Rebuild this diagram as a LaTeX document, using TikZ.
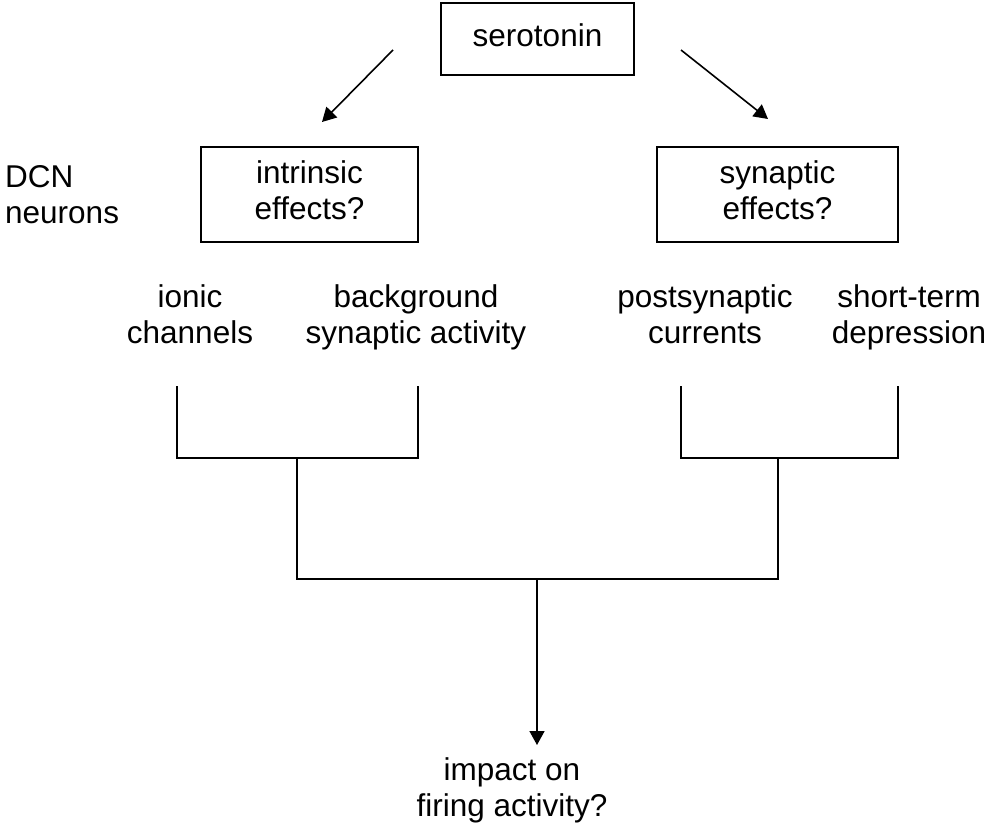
\documentclass[tikz,border=0pt]{standalone}
\usepackage{fontspec}
\setmainfont{Liberation Sans}
\usetikzlibrary{arrows.meta}
\begin{document}
\begin{tikzpicture}[x=1pt,y=-1pt,
  lbl/.style={font=\fontsize{31.5}{36}\selectfont, align=center, inner sep=0pt},
  boxnode/.style={lbl, draw, line width=1.6pt},
  conn/.style={line width=1.8pt},
  arr/.style={line width=1.6pt, -{Triangle[length=14pt,width=15pt]}}]
\useasboundingbox (0,0) rectangle (987,829);
% boxes
\node[boxnode, minimum width=193pt, minimum height=72pt] (sero) at (537.5,39) {\strut serotonin};
\node[boxnode, minimum width=217pt, minimum height=95pt] (intr) at (309.5,194.5) {\strut intrinsic\\\strut effects?};
\node[boxnode, minimum width=241pt, minimum height=95pt] (syn) at (777.5,194.5) {\strut synaptic\\\strut effects?};
% labels
\node[lbl, align=left, anchor=west] (dcn) at (5,198) {\strut DCN\\\strut neurons};
\node[lbl] (ionic) at (190,318) {\strut ionic\\\strut channels};
\node[lbl] (bg) at (416,318) {\strut background\\\strut synaptic activity};
\node[lbl] (post) at (705,318) {\strut postsynaptic\\\strut currents};
\node[lbl] (stp) at (909,318) {\strut short-term\\\strut depression};
\node[lbl] (impact) at (512,791) {\strut impact on\\\strut firing activity?};
% arrow coordinates
\coordinate (aLs) at (393,50);
\coordinate (aLe) at (322,122);
\coordinate (aRs) at (681,50);
\coordinate (aRe) at (768,119);
\draw[arr] (aLs) -- (aLe);
\draw[arr] (aRs) -- (aRe);
% bracket coordinates
\coordinate (t1) at (177,386);
\coordinate (t2) at (418,386);
\coordinate (t3) at (681,386);
\coordinate (t4) at (898,386);
\coordinate (m1) at (297,458);
\coordinate (m2) at (778,458);
\coordinate (c0) at (537,579);
\coordinate (tip) at (537,745);
\draw[conn] (t1) -- (t1 |- m1) -- (t2 |- m1) -- (t2);
\draw[conn] (t3) -- (t3 |- m2) -- (t4 |- m2) -- (t4);
\draw[conn] (m1) -- (m1 |- c0) -- (m2 |- c0) -- (m2);
\draw[arr] (c0) -- (tip);
\end{tikzpicture}
\end{document}
